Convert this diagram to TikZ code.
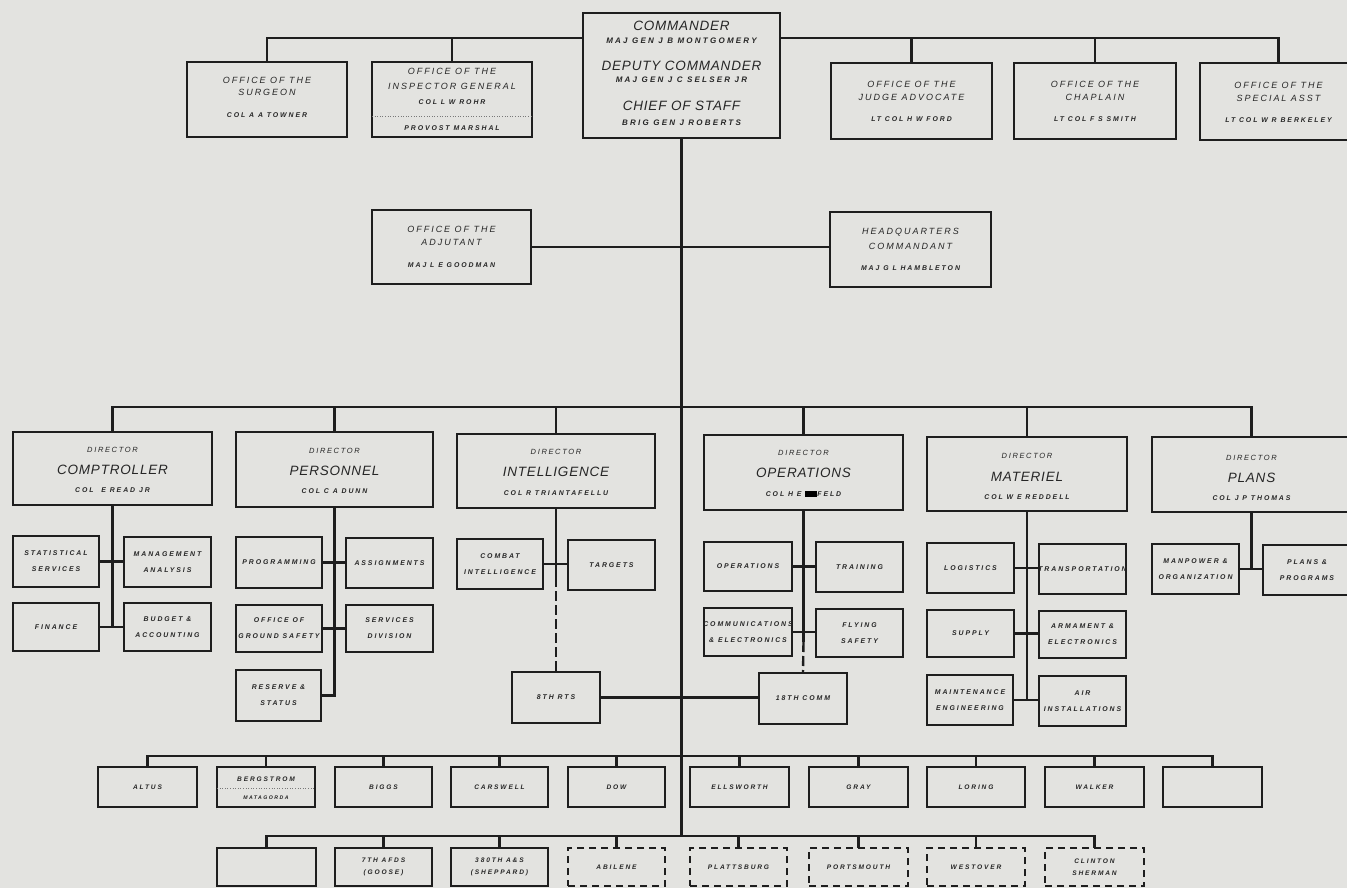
\documentclass[tikz,border=0pt]{standalone}
\usepackage{fontspec}
\setmainfont{Liberation Sans}
\newfontfamily\lsA[LetterSpace=28]{Liberation Sans}
\newfontfamily\lsB[LetterSpace=22]{Liberation Sans}
\newfontfamily\lsC[LetterSpace=6]{Liberation Sans}
\definecolor{bg}{HTML}{E3E3E0}
\definecolor{ink}{HTML}{1E1E1E}
\definecolor{txtc}{HTML}{262626}
\newcounter{tn}
\newcommand\bx[7][]{\node[box,#1,minimum width={(#5-#3)*1pt},minimum height={(#6-#4)*1pt}] (#2) at ({(#3+#5)/2},{(#4+#6)/2}) {#7};}
\newcommand\tx[4][sm]{\stepcounter{tn}\node[txt,#1] (t\arabic{tn}) at (#2 |- 0,#3) {#4};}
\newcommand\blot{\textcolor{black}{\rule[-0.6pt]{12pt}{6pt}}}
\newcommand\ov[1]{\makebox[0pt][c]{#1}}
\begin{document}
\begin{tikzpicture}[x=1pt,y=-1pt,
  sm/.style={font=\lsA\bfseries\itshape\fontsize{6.9}{16}\selectfont},
  nm/.style={font=\lsA\bfseries\itshape\fontsize{8}{9}\selectfont},
  md/.style={font=\lsB\itshape\fontsize{9}{11}\selectfont},
  dr/.style={font=\lsB\itshape\fontsize{7.5}{9}\selectfont},
  lg/.style={font=\lsC\itshape\fontsize{13.5}{15}\selectfont},
  bt/.style={font=\lsA\bfseries\itshape\fontsize{6.6}{12.5}\selectfont},
  tiny/.style={font=\lsA\bfseries\itshape\fontsize{5.2}{6}\selectfont},
  box/.style={draw=ink,line width=1.4pt,rectangle,inner sep=0pt,outer sep=0pt,align=center,text=txtc,sm},
  cmdbox/.style={line width=2.4pt},
  dbox/.style={dash pattern=on 7pt off 5pt},
  txt/.style={inner sep=0pt,text=txtc,anchor=center},
  conn/.style={draw=ink,line width=2.4pt},
  sconn/.style={draw=ink,line width=2.3pt},
  dashconn/.style={draw=ink,line width=2.4pt,dash pattern=on 10pt off 4pt},
  dotline/.style={draw=ink!60,line width=0.6pt,dotted}]
\useasboundingbox (0,0) rectangle (1347,888);
\fill[bg] (0,0) rectangle (1347,888);

% ---------- top level ----------
\bx[cmdbox]{cmd}{583}{13}{780}{138}{}
\tx[lg]{cmd}{26}{COMMANDER}
\tx[nm]{cmd}{41}{MAJ GEN J B MONTGOMERY}
\tx[lg]{cmd}{66}{DEPUTY COMMANDER}
\tx[nm]{cmd}{80}{MAJ GEN J C SELSER JR}
\tx[lg]{cmd}{106}{CHIEF OF STAFF}
\tx[nm]{cmd}{123}{BRIG GEN J ROBERTS}

\bx{sur}{187}{62}{347}{137}{}
\tx[md]{sur}{80}{OFFICE OF THE}
\tx[md]{sur}{92}{SURGEON}
\tx{sur}{115}{COL A A TOWNER}

\bx{ig}{372}{62}{532}{137}{}
\tx[md]{ig}{71}{OFFICE OF THE}
\tx[md]{ig}{86}{INSPECTOR GENERAL}
\tx{ig}{102}{COL L W ROHR}
\draw[dotline] (ig.west |- 0,116) -- (ig.east |- 0,116);
\tx{ig}{128}{PROVOST MARSHAL}

\bx{ja}{831}{63}{992}{139}{}
\tx[md]{ja}{84}{OFFICE OF THE}
\tx[md]{ja}{97}{JUDGE ADVOCATE}
\tx{ja}{119}{LT COL H W FORD}

\bx{ch}{1014}{63}{1176}{139}{}
\tx[md]{ch}{84}{OFFICE OF THE}
\tx[md]{ch}{97}{CHAPLAIN}
\tx{ch}{119}{LT COL F S SMITH}

\bx{sa}{1200}{63}{1357}{140}{}
\tx[md]{sa}{85}{OFFICE OF THE}
\tx[md]{sa}{98}{SPECIAL ASST}
\tx{sa}{120}{LT COL W R BERKELEY}

\draw[conn] (cmd.west |- 0,38) -| (sur.north);
\draw[conn] (ig.north |- 0,38) -- (ig.north);
\draw[conn] (cmd.east |- 0,38) -| (sa.north);
\draw[conn] (ja.north |- 0,38) -- (ja.north);
\draw[conn] (ch.north |- 0,38) -- (ch.north);

% ---------- staff ----------
\bx{adj}{372}{210}{531}{284}{}
\tx[md]{adj}{229}{OFFICE OF THE}
\tx[md]{adj}{242}{ADJUTANT}
\tx{adj}{265}{MAJ L E GOODMAN}

\bx{hq}{830}{212}{991}{287}{}
\tx[md]{hq}{232}{HEADQUARTERS}
\tx[md]{hq}{246}{COMMANDANT}
\tx{hq}{268}{MAJ G L HAMBLETON}

\coordinate (mb) at (cmd.south |- 0,836);
\draw[conn] (cmd.south) -- (mb);
\draw[conn] (adj.east) -- (adj.east -| hq.west);

% ---------- directors ----------
\bx{comp}{13}{432}{212}{505}{}
\tx[dr]{comp}{450}{DIRECTOR}
\tx[lg]{comp}{470}{COMPTROLLER}
\tx{comp}{490}{COL \ E READ JR}

\bx{pers}{236}{432}{433}{507}{}
\tx[dr]{pers}{451}{DIRECTOR}
\tx[lg]{pers}{471}{PERSONNEL}
\tx{pers}{491}{COL C A DUNN}

\bx{intel}{457}{434}{655}{508}{}
\tx[dr]{intel}{452}{DIRECTOR}
\tx[lg]{intel}{472}{INTELLIGENCE}
\tx{intel}{493}{COL R TRIANTAFELLU}

\bx{ops}{704}{435}{903}{510}{}
\tx[dr]{ops}{453}{DIRECTOR}
\tx[lg]{ops}{473}{OPERATIONS}
\tx{ops}{494}{COL H E \blot FELD}

\bx{mat}{927}{437}{1127}{511}{}
\tx[dr]{mat}{456}{DIRECTOR}
\tx[lg]{mat}{477}{MATERIEL}
\tx{mat}{497}{COL W E REDDELL}

\bx{plans}{1152}{437}{1351}{512}{}
\tx[dr]{plans}{458}{DIRECTOR}
\tx[lg]{plans}{478}{PLANS}
\tx{plans}{498}{COL J P THOMAS}

\draw[conn] (comp.north) -- (comp.north |- 0,407) -- (plans.north |- 0,407) -- (plans.north);
\foreach \n in {pers,intel,ops,mat} \draw[conn] (\n.north |- 0,407) -- (\n.north);

% ---------- comptroller ----------
\bx{ss}{13}{536}{99}{587}{STATISTICAL\\SERVICES}
\bx{ma}{124}{537}{211}{587}{\ov{MANAGEMENT}\\ANALYSIS}
\bx{fin}{13}{603}{99}{651}{FINANCE}
\bx{ba}{124}{603}{211}{651}{BUDGET \&\\\ov{ACCOUNTING}}
\draw[conn] (comp.south) -- (comp.south |- fin.east);
\draw[sconn] (ss.east) -- (ss.east -| ma.west);
\draw[sconn] (fin.east) -- (fin.east -| ba.west);

% ---------- personnel ----------
\bx{prog}{236}{537}{322}{588}{\ov{PROGRAMMING}}
\bx{asg}{346}{538}{433}{588}{\ov{ASSIGNMENTS}}
\bx{ogs}{236}{605}{322}{652}{OFFICE OF\\\ov{GROUND SAFETY}}
\bx{sd}{346}{605}{433}{652}{SERVICES\\DIVISION}
\bx{rs}{236}{670}{321}{721}{RESERVE \&\\STATUS}
\draw[conn] (pers.south) |- (rs.east);
\draw[sconn] (prog.east) -- (prog.east -| asg.west);
\draw[sconn] (ogs.east) -- (ogs.east -| sd.west);

% ---------- intelligence ----------
\bx{ci}{457}{539}{543}{589}{COMBAT\\\ov{INTELLIGENCE}}
\bx{tg}{568}{540}{655}{590}{TARGETS}
\bx{rts}{512}{672}{600}{723}{8TH RTS}
\coordinate (id) at (intel.south |- 0,577);
\draw[conn] (intel.south) -- (id);
\draw[dashconn] (id) -- (rts.north);
\draw[sconn] (ci.east) -- (ci.east -| tg.west);

% ---------- operations ----------
\bx{op}{704}{542}{792}{591}{OPERATIONS}
\bx{tr}{816}{542}{903}{592}{TRAINING}
\bx{ce}{704}{608}{792}{656}{\ov{COMMUNICATIONS}\\\ov{\& ELECTRONICS}}
\bx{fs}{816}{609}{903}{657}{FLYING\\SAFETY}
\bx{comm}{759}{673}{847}{724}{18TH COMM}
\coordinate (od) at (ops.south |- 0,642);
\draw[conn] (ops.south) -- (od);
\draw[dashconn] (od) -- (comm.north);
\draw[sconn] (op.east) -- (op.east -| tr.west);
\draw[sconn] (ce.east) -- (ce.east -| fs.west);
\draw[conn] (rts.east) -- (rts.east -| comm.west);

% ---------- materiel ----------
\bx{lgs}{927}{543}{1014}{593}{LOGISTICS}
\bx{tp}{1039}{544}{1126}{594}{\ov{TRANSPORTATION}}
\bx{sup}{927}{610}{1014}{657}{SUPPLY}
\bx{ae}{1039}{611}{1126}{658}{ARMAMENT \&\\\ov{ELECTRONICS}}
\bx{me}{927}{675}{1013}{725}{\ov{MAINTENANCE}\\\ov{ENGINEERING}}
\bx{ai}{1039}{676}{1126}{726}{AIR\\\ov{INSTALLATIONS}}
\draw[conn] (mat.south) |- (me.east);
\draw[sconn] (lgs.east) -- (lgs.east -| tp.west);
\draw[sconn] (sup.east) -- (sup.east -| ae.west);
\draw[sconn] (me.east) -- (me.east -| ai.west);

% ---------- plans ----------
\bx{mo}{1152}{544}{1239}{594}{MANPOWER \&\\\ov{ORGANIZATION}}
\bx{pp}{1263}{545}{1351}{595}{PLANS \&\\PROGRAMS}
\draw[conn] (plans.south) -- (plans.south |- mo.east);
\draw[sconn] (mo.east) -- (mo.east -| pp.west);

% ---------- bases row 1 ----------
\bx[bt]{altus}{98}{767}{197}{807}{ALTUS}
\bx[bt]{berg}{217}{767}{315}{807}{}
\tx[bt]{berg}{779}{BERGSTROM}
\draw[dotline] (berg.west |- 0,788) -- (berg.east |- 0,788);
\tx[tiny]{berg}{798}{MATAGORDA}
\bx[bt]{biggs}{335}{767}{432}{807}{BIGGS}
\bx[bt]{cars}{451}{767}{548}{807}{CARSWELL}
\bx[bt]{dow}{568}{767}{665}{807}{DOW}
\bx[bt]{ells}{690}{767}{789}{807}{ELLSWORTH}
\bx[bt]{gray}{809}{767}{908}{807}{GRAY}
\bx[bt]{lor}{927}{767}{1025}{807}{LORING}
\bx[bt]{walk}{1045}{767}{1144}{807}{WALKER}
\bx[bt]{blA}{1163}{767}{1262}{807}{}
\draw[conn] (altus.north) -- (altus.north |- 0,756) -- (blA.north |- 0,756) -- (blA.north);
\foreach \n in {berg,biggs,cars,dow,ells,gray,lor,walk} \draw[conn] (\n.north |- 0,756) -- (\n.north);

% ---------- bases row 2 ----------
\bx[bt]{blB}{217}{848}{316}{886}{}
\bx[bt]{afds}{335}{848}{432}{886}{7TH AFDS\\(GOOSE)}
\bx[bt]{ars}{451}{848}{548}{886}{380TH A\&S\\(SHEPPARD)}
\bx[bt,dbox]{abi}{568}{848}{665}{886}{ABILENE}
\bx[bt,dbox]{pla}{690}{848}{787}{886}{PLATTSBURG}
\bx[bt,dbox]{por}{809}{848}{908}{886}{PORTSMOUTH}
\bx[bt,dbox]{wes}{927}{848}{1025}{886}{WESTOVER}
\bx[bt,dbox]{cli}{1045}{848}{1144}{886}{CLINTON\\SHERMAN}
\draw[conn] (blB.north) -- (blB.north |- mb) -- (cli.north |- mb) -- (cli.north);
\foreach \n in {afds,ars,abi,pla,por,wes} \draw[conn] (\n.north |- mb) -- (\n.north);
\end{tikzpicture}
\end{document}
